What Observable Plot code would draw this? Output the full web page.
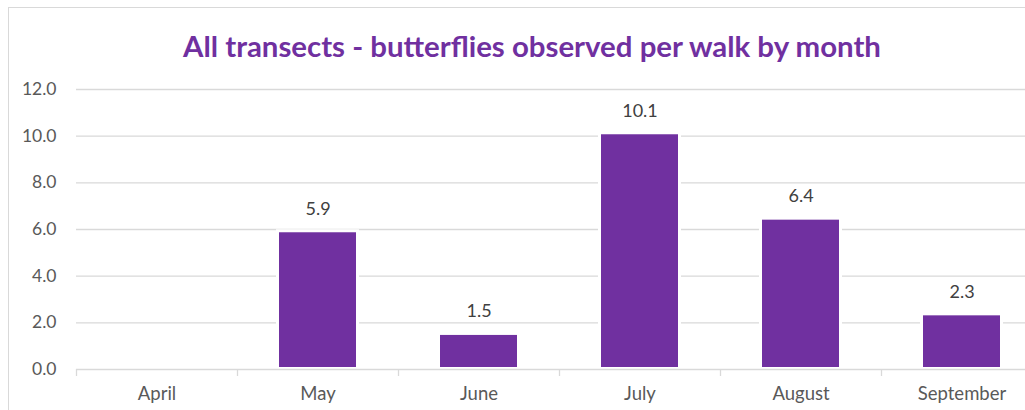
<!DOCTYPE html>
<html>
<head>
<meta charset="utf-8">
<script src="https://cdn.jsdelivr.net/npm/d3@7"></script>
<script src="https://cdn.jsdelivr.net/npm/@observablehq/plot@0.6"></script>
<style>
  html, body { margin: 0; padding: 0; background: #fff; overflow: hidden; }
  #wrap { position: relative; width: 1025px; height: 410px; overflow: hidden; font-family: Lato, "Open Sans", sans-serif; }
  #frame { position: absolute; left: 8px; top: 7px; width: 1100px; height: 460px; border: 1px solid #d9d9d9; box-sizing: border-box; }
  #title { position: absolute; left: 0; width: 1064px; top: 29px; text-align: center; font-size: 29.4px; font-weight: bold; color: #7030A0; line-height: 34px; }
  #chart { position: absolute; left: 0; top: 0; }
</style>
</head>
<body>
<div id="wrap">
  <div id="frame"></div>
  <div id="title">All transects - butterflies observed per walk by month</div>
  <div id="chart"></div>
</div>
<script>
const months = ["April", "May", "June", "July", "August", "September"];
const values = [0, 5.86, 1.46, 10.06, 6.4, 2.3];
const yTicks = [0, 2, 4, 6, 8, 10, 12];

const data = months.map((m, i) => ({month: m, value: values[i]}));
const labelled = data.filter(d => d.value > 0);

const textColor = "#595959";
const fmt = d3.format(".1f");

const chart = Plot.plot({
  width: 1025,
  height: 410,
  marginLeft: 76,
  marginRight: 0,
  marginTop: 89,
  marginBottom: 41,
  style: {fontFamily: "Lato, 'Open Sans', sans-serif", background: "transparent", overflow: "visible"},
  x: {domain: months, range: [76, 1042], paddingInner: 0.52, paddingOuter: 0.26, label: null},
  y: {domain: [0, 12], label: null},
  marks: [
    Plot.ruleY(yTicks.filter(t => t > 0), {y: d => d, stroke: "#d9d9d9", strokeWidth: 1.3}),
    Plot.barY(data.filter(d => d.value > 0), {x: "month", y: "value", fill: "white", insetLeft: -3, insetRight: -3, insetTop: -3}),
    Plot.barY(data.filter(d => d.value > 0), {x: "month", y: "value", fill: "#7030A0", insetBottom: 2}),
    Plot.ruleY([0], {stroke: "#d9d9d9", strokeWidth: 1.5}),
    Plot.ruleX(months, {x: d => d, dx: -80.5, y1: 0, y2: 0, insetBottom: -7, stroke: "#d9d9d9", strokeWidth: 1.3}),
    Plot.axisY(yTicks, {tickSize: 0, tickPadding: 20, tickFormat: fmt, fontSize: 17.5, fill: textColor}),
    Plot.axisX(months, {tickSize: 0, tickPadding: 17, fontSize: 18.5, fill: textColor}),
    Plot.text(labelled, {x: "month", y: "value", text: d => fmt(d.value), dy: -24, lineAnchor: "middle", fontSize: 18, fill: "#404040"})
  ]
});
document.getElementById("chart").appendChild(chart);
</script>
</body>
</html>
